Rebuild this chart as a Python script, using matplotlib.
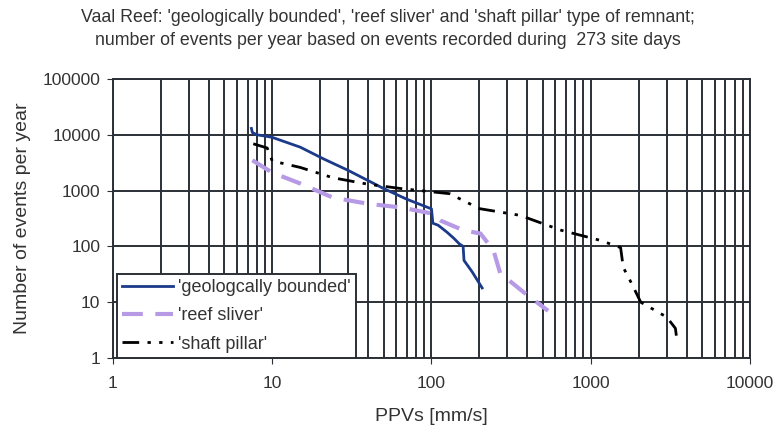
import numpy as np
import matplotlib.pyplot as plt
from matplotlib import rcParams
from matplotlib.ticker import LogLocator, FixedLocator, NullFormatter

rcParams['font.family'] = ['Liberation Sans', 'DejaVu Sans']
GRID = '#2b2f36'

# 'geologically bounded'
geo_ppv = [7.4, 7.5, 8.0, 9.0, 10.0, 12.0, 15.0, 21.0, 30.0, 50.0, 70.0, 100.0,
           102.0, 110.0, 125.0, 138.0, 150.0, 155.0, 158.0, 160.0, 180.0, 208.0]
geo_n = [13000, 11000, 10000, 9500, 9000, 7500, 6000, 3700, 2300, 1090, 700, 470,
         260, 240, 180, 140, 110, 104, 100, 56, 35, 18]

# 'reef sliver'
reef_ppv = [7.5, 10.0, 15.0, 24.0, 40.0, 64.0, 100.0, 114.0, 158.0, 203.0,
            245.0, 270.0, 380.0, 540.0]
reef_n = [3500, 2100, 1340, 750, 580, 500, 390, 290, 195, 170, 85, 33, 15, 7]

# 'shaft pillar'
shaft_ppv = [7.6, 9.3, 10.0, 15.0, 24.0, 40.0, 64.0, 130.0, 200.0, 360.0,
             650.0, 1150.0, 1540.0, 1600.0, 1800.0, 2060.0, 3000.0, 3400.0, 3500.0]
shaft_n = [6900, 5800, 3400, 2600, 1700, 1300, 1090, 880, 475, 360,
           195, 128, 95, 42, 22, 10, 5.4, 3.4, 1.8]

fig = plt.figure(figsize=(7.76, 4.28), dpi=100)
ax = fig.add_axes([0.1456, 0.1636, 0.8209, 0.6518])

ax.plot(geo_ppv, geo_n, color='#1c3a8a', lw=2.0, label="'geologcally bounded'", zorder=3)
ax.plot(reef_ppv, reef_n, color='#b79ae6', lw=3.0, dashes=(5, 3), label="'reef sliver'", zorder=3)
ax.plot(shaft_ppv, shaft_n, color='black', lw=2.0, dashes=(6, 3, 1.2, 3, 1.2, 3),
        label="'shaft pillar'", zorder=3)

ax.set_xscale('log')
ax.set_yscale('log')
ax.set_xlim(1, 10000)
ax.set_ylim(1, 100000)

ax.xaxis.set_major_locator(FixedLocator([1, 10, 100, 1000, 10000]))
ax.xaxis.set_minor_locator(LogLocator(base=10, subs=np.arange(2, 10)))
ax.xaxis.set_minor_formatter(NullFormatter())
ax.yaxis.set_major_locator(FixedLocator([1, 10, 100, 1000, 10000, 100000]))
ax.yaxis.set_minor_locator(FixedLocator([]))
ax.set_xticklabels(['1', '10', '100', '1000', '10000'])
ax.set_yticklabels(['1', '10', '100', '1000', '10000', '100000'])

ax.grid(True, which='major', color=GRID, lw=1.4)
ax.grid(True, which='minor', axis='x', color=GRID, lw=1.4)
ax.tick_params(which='major', length=4, labelsize=12.5, color=GRID, labelcolor='#333333')
ax.tick_params(axis='x', pad=9)
ax.tick_params(axis='y', pad=5)
ax.tick_params(which='minor', length=0)
for s in ax.spines.values():
    s.set_color(GRID)
    s.set_linewidth(1.4)

ax.set_xlabel('PPVs [mm/s]', fontsize=14, color='#333333', labelpad=12)
ax.set_ylabel('Number of events per year', fontsize=14, color='#333333', labelpad=8)

fig.text(0.5, 0.96, "Vaal Reef: 'geologically bounded', 'reef sliver' and 'shaft pillar' type of remnant;",
         ha='center', va='center', fontsize=12.8, color='#333333')
fig.text(0.5, 0.906, "number of events per year based on events recorded during  273 site days",
         ha='center', va='center', fontsize=12.8, color='#333333')

leg = ax.legend(loc='lower left', bbox_to_anchor=(4 / 637, 0.0), fontsize=13, frameon=True,
                fancybox=False, edgecolor=GRID, framealpha=1, handlelength=2.8,
                handletextpad=0.3, borderpad=0.3, borderaxespad=0.0, labelspacing=0.62)
leg.get_frame().set_linewidth(1.4)
for t in leg.get_texts():
    t.set_color('#333333')

plt.savefig('out.png', dpi=100)
